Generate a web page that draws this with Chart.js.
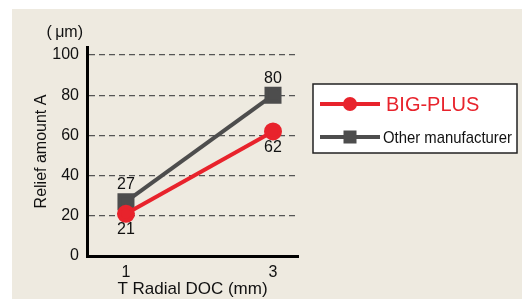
<!DOCTYPE html>
<html>
<head>
<meta charset="utf-8">
<script src="https://cdn.jsdelivr.net/npm/chart.js@4/dist/chart.umd.min.js"></script>
<style>
  html, body { margin: 0; padding: 0; background: #fff; }
  #wrap { width: 522px; height: 299px; }
</style>
</head>
<body>
<div id="wrap"><canvas id="reliefChart"></canvas></div>
<script>
// T radial depth of cut (mm)
const docValues = [1, 3];
// relief amount A (um)
const bigPlus = [21, 62];
const otherMaker = [27, 80];
const seriesNames = ["BIG-PLUS", "Other manufacturer"];
const yTicks = [0, 20, 40, 60, 80, 100];

const RED = "#e8232c";
const GRAY = "#4d4d4d";
const FONT = "'Liberation Sans', Arial, sans-serif";

function toPoints(ys) {
  return docValues.map((x, i) => ({ x: x, y: ys[i] }));
}

// beige panel behind everything
const panelPlugin = {
  id: "panel",
  beforeDraw(chart) {
    const ctx = chart.ctx;
    ctx.save();
    ctx.fillStyle = "#eeeae0";
    ctx.fillRect(12, 9, chart.width - 12, chart.height - 9);
    ctx.restore();
  },
};

// value labels: gray above, red below
const valueLabels = {
  id: "valueLabels",
  afterDatasetsDraw(chart) {
    const ctx = chart.ctx;
    ctx.save();
    ctx.font = "16px " + FONT;
    ctx.fillStyle = "#111";
    ctx.textAlign = "center";
    ctx.textBaseline = "middle";
    chart.data.datasets.forEach((ds, di) => {
      const meta = chart.getDatasetMeta(di);
      meta.data.forEach((pt, i) => {
        const off = di === 0 ? 16 : -17;
        ctx.fillText(String(ds.data[i].y), pt.x, pt.y + off);
      });
    });
    // unit label above the y axis
    const ya = chart.scales.y;
    ctx.textAlign = "right";
    ctx.fillText("(\u2009\u03bcm)", ya.right - 4, 33);
    ctx.restore();
  },
};

// framed legend at the right
const boxLegend = {
  id: "boxLegend",
  afterDraw(chart) {
    const ctx = chart.ctx;
    const bx = 313, by = 84, bw = 204, bh = 69;
    ctx.save();
    ctx.fillStyle = "#fff";
    ctx.fillRect(bx, by, bw, bh);
    ctx.strokeStyle = "#222";
    ctx.lineWidth = 1.5;
    ctx.strokeRect(bx, by, bw, bh);
    chart.data.datasets.forEach((ds, i) => {
      const y = i === 0 ? 104 : 137;
      ctx.strokeStyle = ds.borderColor;
      ctx.lineWidth = 4;
      ctx.beginPath();
      ctx.moveTo(320, y);
      ctx.lineTo(380, y);
      ctx.stroke();
      ctx.fillStyle = ds.borderColor;
      ctx.textAlign = "left";
      ctx.textBaseline = "middle";
      if (i === 0) {
        ctx.beginPath();
        ctx.arc(350, y, 7, 0, Math.PI * 2);
        ctx.fill();
        ctx.font = "20px " + FONT;
        ctx.fillStyle = RED;
        ctx.fillText(ds.label, 386, y + 1);
      } else {
        ctx.fillRect(343.5, y - 6.5, 13, 13);
        // condensed look: squeeze the text horizontally
        ctx.font = "17px " + FONT;
        ctx.fillStyle = "#111";
        ctx.save();
        ctx.translate(383, y + 1);
        ctx.scale(0.875, 1);
        ctx.fillText(ds.label, 0, 0);
        ctx.restore();
      }
    });
    ctx.restore();
  },
};

new Chart(document.getElementById("reliefChart"), {
  type: "line",
  data: {
    datasets: [
      {
        label: seriesNames[0],
        data: toPoints(bigPlus),
        borderColor: RED,
        backgroundColor: RED,
        borderWidth: 4,
        pointStyle: "circle",
        pointRadius: 7,
        pointHoverRadius: 7,
      },
      {
        label: seriesNames[1],
        data: toPoints(otherMaker),
        borderColor: GRAY,
        backgroundColor: GRAY,
        borderWidth: 4,
        pointStyle: "rect",
        pointRadius: 9.2,
        pointHoverRadius: 9.2,
      },
    ],
  },
  options: {
    responsive: true,
    maintainAspectRatio: false,
    animation: false,
    events: [],
    layout: { padding: { left: 0, top: 47, right: 224, bottom: 0 } },
    plugins: {
      legend: { display: false },
      tooltip: { enabled: false },
    },
    scales: {
      x: {
        type: "linear",
        min: 0.47,
        max: 3.34,
        afterBuildTicks: (s) => { s.ticks = docValues.map((v) => ({ value: v })); },
        afterFit: (s) => { s.height = 43; },
        grid: { display: false, drawTicks: false },
        border: { display: true, color: "#000", width: 3 },
        ticks: { color: "#111", font: { size: 16, family: FONT }, padding: 7 },
        title: {
          display: true,
          text: "T Radial DOC (mm)",
          color: "#111",
          font: { size: 17, family: FONT },
          padding: { top: 0, bottom: -1 },
        },
      },
      y: {
        min: 0,
        max: 104,
        afterBuildTicks: (s) => { s.ticks = yTicks.map((v) => ({ value: v })); },
        afterFit: (s) => { s.width = 87; },
        grid: { color: "#555", lineWidth: 1.2, drawTicks: false },
        border: { display: true, color: "#000", width: 3, dash: [6, 4] },
        ticks: { color: "#111", font: { size: 16, family: FONT }, padding: 8 },
        title: {
          display: true,
          text: "Relief amount A",
          color: "#111",
          font: { size: 16, family: FONT },
          padding: { top: 32, bottom: 0 },
        },
      },
    },
  },
  plugins: [panelPlugin, valueLabels, boxLegend],
});
</script>
</body>
</html>
